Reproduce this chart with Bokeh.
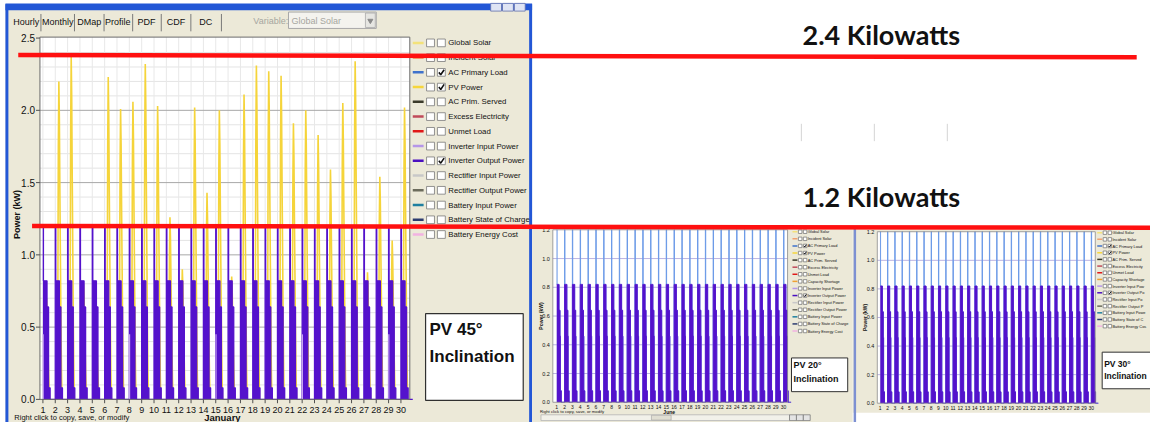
import numpy as np
from math import pi
from bokeh.plotting import figure
from bokeh.models import Range1d
from bokeh.embed import file_html
from bokeh.resources import INLINE
from bokeh.core.properties import value

# ---------------- data ----------------
days = list(range(1, 31))
day_labels = [str(d) for d in days]
hours = list(range(24))

# daily peak of PV Power, 45 deg panel (kW)
pv45_peak_kw = [0.70, 2.20, 2.37, 0.80, 0.60, 2.23, 2.01, 2.06, 2.32, 2.03,
                1.26, 0.90, 2.02, 1.43, 2.00, 0.85, 2.11, 2.31, 2.27, 2.24,
                1.91, 2.00, 1.83, 1.59, 2.05, 2.34, 0.88, 1.54, 1.10, 2.02]
pv_shape_hours = [4, 5, 6, 7, 8, 9, 10, 11, 12, 13]
pv_shape_frac = [0.0, 0.30, 0.80, 1.0, 0.88, 0.65, 0.45, 0.25, 0.10, 0.0]

# hourly inverter output (same each day), kW
inverter45_profile_kw = [1.19, 0.82, 0.82, 0.82, 0.82, 0.82, 0.82, 0.82, 0.64, 0.64,
                         0.64, 0.08, 0.08, 0.08] + [0.0] * 10
lilac_days = [1, 8, 15, 22, 29]
lilac_kw = 0.45

acload_small_profile_kw = [1.20, 0.82, 0.82, 0.82, 0.82, 0.82, 0.82, 0.64, 0.64, 0.64,
                           0.46, 0.08, 0.08, 0.08] + [0.0] * 10
inverter_small_profile_kw = [0.82, 0.82, 0.82, 0.82, 0.82, 0.82, 0.82, 0.64, 0.64,
                             0.64, 0.46, 0.08, 0.08, 0.08] + [0.0] * 10

ref_levels_kw = [2.38, 1.20]
ref_labels = ["2.4 Kilowatts", "1.2 Kilowatts"]

y45_ticks = [0.0, 0.5, 1.0, 1.5, 2.0, 2.5]
y45_labels = ["0.0", "0.5", "1.0", "1.5", "2.0", "2.5"]
ysm_ticks = [0.0, 0.2, 0.4, 0.6, 0.8, 1.0, 1.2]
ysm_labels = ["0.0", "0.2", "0.4", "0.6", "0.8", "1.0", "1.2"]

tabs = ["Hourly", "Monthly", "DMap", "Profile", "PDF", "CDF", "DC"]

legend45_names = ["Global Solar", "Incident Solar", "AC Primary Load", "PV Power",
                  "AC Prim. Served", "Excess Electricity", "Unmet Load",
                  "Inverter Input Power", "Inverter Output Power",
                  "Rectifier Input Power", "Rectifier Output Power",
                  "Battery Input Power", "Battery State of Charge", "Battery Energy Cost"]
legend45_colors = ["#f3e27a", "#f0a070", "#3f72cc", "#f6d63c", "#3a3a2a", "#c04a5a",
                   "#e01818", "#b596e8", "#4a10c0", "#c8c8c8", "#6c6c5c", "#1f7fa0",
                   "#2c3c70", "#f2b2e2"]
legend45_checked = [False, False, True, True, False, False, False, False, True,
                    False, False, False, False, False]

legend_sm_names = ["Global Solar", "Incident Solar", "AC Primary Load", "PV Power",
                   "AC Prim. Served", "Excess Electricity", "Unmet Load",
                   "Capacity Shortage", "Inverter Input Power", "Inverter Output Power",
                   "Rectifier Input Power", "Rectifier Output Power",
                   "Battery Input Power", "Battery State of Charge", "Battery Energy Cost"]
# the 30 deg window is cut at the picture's right edge
legend30_visible = [nm[:18] for nm in legend_sm_names]
legend_sm_colors = ["#f3e27a", "#f0a070", "#3f72cc", "#f6d63c", "#3a3a2a", "#c04a5a",
                    "#e01818", "#f0a030", "#b596e8", "#4a10c0", "#c8c8c8", "#6c6c5c",
                    "#1f7fa0", "#2c3c70", "#f2b2e2"]
legend_sm_checked = [False, False, True, True, False, False, False, False, False, True,
                     False, False, False, False, False]

# ---------------- styling ----------------
SANS = "Liberation Sans"
BEIGE = "#ece9d8"
WBLUE = "#2357d6"
PURPLE = "#5412cc"
YELLOW = "#f5d43a"
RED = "#ff1010"
LBLUE = "#6c9be8"

W, H = 1166, 438
p = figure(width=1150, height=422, x_range=Range1d(0, W), y_range=Range1d(H, 0),
           output_backend="svg", toolbar_location=None, x_axis_type=None,
           y_axis_type=None, min_border=0)
p.outline_line_color = None
p.background_fill_color = "white"
p.border_fill_color = "white"


def rng(p0, v0, p1, v1, lo, hi):
    k = (v1 - v0) / (p1 - p0)
    return Range1d(start=v0 + (lo - p0) * k, end=v0 + (hi - p0) * k)


p.extra_x_ranges = {"x45": rng(43, 1, 406, 30, 0, W),
                    "x20": rng(564, 1, 794, 30, 0, W),
                    "x30": rng(892, 1, 1106, 30, 0, W)}
p.extra_y_ranges = {"y45": rng(414, 0, 39, 2.5, H, 0),
                    "y20": rng(417, 0, 238, 1.2, H, 0),
                    "y30": rng(418, 0, 240, 1.2, H, 0)}


def L(v):
    return list(v) if isinstance(v, (list, tuple, np.ndarray)) else [v]


def T(x, y, text, size, color="#111111", font=SANS, style="normal", align="left",
      baseline="middle", angle=0.0, xr="default", yr="default"):
    text = L(text)
    n = len(text)
    xs = L(x) if isinstance(x, (list, tuple, np.ndarray)) else [x] * n
    ys = L(y) if isinstance(y, (list, tuple, np.ndarray)) else [y] * n
    p.text(x=xs, y=ys, text=text, text_font=value(font),
           text_font_size=value(size), text_color=color, text_font_style=style,
           text_align=align, text_baseline=baseline, angle=angle,
           x_range_name=xr, y_range_name=yr)


def box(l, r, t, b, fill, line=None, lw=1.0, xr="default", yr="default"):
    p.quad(left=l, right=r, top=t, bottom=b, fill_color=fill,
           line_color=line, line_width=lw, x_range_name=xr, y_range_name=yr)


def seg(x0, y0, x1, y1, color, lw=1.0, xr="default", yr="default", alpha=1.0):
    p.segment(x0=L(x0), y0=L(y0), x1=L(x1), y1=L(y1), line_color=color,
              line_width=lw, line_alpha=alpha, x_range_name=xr, y_range_name=yr)


def tiled(profile):
    xs, ys = [], []
    for d in days:
        for h, v in zip(hours, profile):
            xs.append(d + h / 24.0)
            ys.append(v)
    return xs, ys


def checkbox(x, y, s, checked):
    box(x, x + s, y - s / 2, y + s / 2, "white", "#7a7a7a", 0.8)
    if checked:
        p.line(x=[x + 0.18 * s, x + 0.42 * s, x + 0.85 * s],
               y=[y, y + 0.3 * s, y - 0.35 * s], line_color="#111111",
               line_width=max(1.0, s / 5.0))


# ================= left window (45 deg) =================
box(5, 539, 4, H, BEIGE)
box(5, 8, 4, H, WBLUE)
box(536, 539, 4, H, WBLUE)
box(5, 539, 3, 10, WBLUE)
for bx in [497, 509, 521]:
    box(bx, bx + 11, 3, 11, "#dfe4f4", "#6070b0", 0.8)

# tabs
tab_x = [26, 58, 90, 119, 148, 178, 208]
tab_sep = [41, 75, 105, 134, 163, 193, 224]
T(tab_x, 22, tabs, "9px", align="center")
seg(tab_sep, [14] * 7, tab_sep, [32] * 7, "#7a7a7a", 1.0)
T(274, 21, "Variable:", "9px", color="#a6a6a0", align="center")
box(292, 381, 12, 29, "#f4f3ee", "#a8a8a8", 1.0)
T(295, 21, "Global Solar", "9px", color="#a6a6a0")
box(370, 380, 13, 28, "#e6e6e2", "#a8a8a8", 0.8)
p.scatter(x=[375], y=[21], marker="inverted_triangle", size=5, color="#8a8a8a")

# plot frame
box(40, 415, 38, 414, "white", None)
minor = [round(v, 2) for v in np.arange(0.1, 2.5, 0.1) if round(v * 10) % 5 != 0]
seg([40] * len(minor), minor, [415] * len(minor), minor, "#e4e4e4", 1.0, yr="y45")
seg(days, [38] * 30, days, [414] * 30, "#e8e8e8", 1.0, xr="x45")
major = [0.5, 1.0, 1.5, 2.0]
seg([40] * 4, major, [415] * 4, major, "#a8a8a8", 1.0, yr="y45")

# PV power spikes
pv_x, pv_y = [], []
for d, pk in zip(days, pv45_peak_kw):
    pv_x.append([d + h / 24.0 for h in pv_shape_hours])
    pv_y.append([pk * f for f in pv_shape_frac])
p.multi_line(xs=pv_x, ys=pv_y, line_color=YELLOW, line_width=1.6,
             x_range_name="x45", y_range_name="y45")

# inverter output
ix, iy = tiled(inverter45_profile_kw)
p.varea_step(x=ix, y1=[0] * len(ix), y2=iy, step_mode="after", fill_color=PURPLE,
             x_range_name="x45", y_range_name="y45")
p.step(x=ix, y=iy, mode="after", line_color=PURPLE, line_width=1.3,
       x_range_name="x45", y_range_name="y45")
lx = [d + 0.5 / 24 for d in lilac_days]
seg(lx, [0] * 5, lx, [lilac_kw] * 5, "#c7a6f2", 1.2, xr="x45", yr="y45")

box(40, 415, 38, 414, None, "#6a6a6a", 1.0)

# axes text
seg([36] * 6, y45_ticks, [40] * 6, y45_ticks, "#505050", 1.0, yr="y45")
T([35] * 6, y45_ticks, y45_labels, "10px", align="right", yr="y45")
seg(days, [414] * 30, days, [418] * 30, "#505050", 1.0, xr="x45")
T(days, 425, day_labels, "9px", align="center", xr="x45")
T(17, 222, "Power (kW)", "9px", style="bold", align="center", angle=pi / 2)
T(225, 433, "January", "9.5px", style="bold", align="center")
T(14, 433, "Right click to copy, save, or modify", "7.5px")

# legend
for i, (nm, c, ck) in enumerate(zip(legend45_names, legend45_colors, legend45_checked)):
    yy = 44 + 15.3 * i
    seg(418, yy, 429, yy, c, 2.5)
    checkbox(432, yy, 8, False)
    checkbox(443, yy, 8, ck)
    T(454, yy, nm, "7.8px")

# caption box
box(431, 530, 325, 415, "white", "#303030", 1.2)
T(435, 341, "PV 45\u00b0", "17px", style="bold")
T(435, 369, "Inclination", "17px", style="bold")


# ================= small panels =================
def small_panel(xr, yr, frame, lab_x, ttl, names, legend_x, legend_y0, legend_dy, cbox,
                month, bottom_text):
    l, r, t, b = frame
    box(l, r, t, b, "white", None)
    gl = [0.2, 0.4, 0.6, 0.8, 1.0]
    seg(days, [t] * 30, days, [b] * 30, "#ececf4", 1.0, xr=xr)
    seg([l] * 5, gl, [r] * 5, gl, "#bcb4e2", 1.0, yr=yr)
    ax, ay = tiled(acload_small_profile_kw)
    p.step(x=ax, y=ay, mode="after", line_color=LBLUE, line_width=1.0,
           x_range_name=xr, y_range_name=yr)
    sx, sy = tiled(inverter_small_profile_kw)
    p.varea_step(x=sx, y1=[0] * len(sx), y2=sy, step_mode="after",
                 fill_color=PURPLE, x_range_name=xr, y_range_name=yr)
    p.step(x=sx, y=sy, mode="after", line_color=PURPLE, line_width=0.9,
           x_range_name=xr, y_range_name=yr)
    box(l, r, t, b, None, "#8a8a8a", 0.8)
    T([lab_x] * 7, ysm_ticks, ysm_labels, "5.5px", align="right", yr=yr)
    T(days, b + 5, day_labels, "5px", align="center", xr=xr)
    T(lab_x - 9, (t + b) / 2, "Power (kW)", "5px", style="bold", align="center",
      angle=pi / 2)
    if month:
        T((l + r) / 2 - 1, b + 10, month, "5px", style="bold", align="center")
    if bottom_text:
        T(l - 13, b + 10, bottom_text, "4.2px")
    for i, (nm, c, ck) in enumerate(zip(names, legend_sm_colors, legend_sm_checked)):
        yy = legend_y0 + legend_dy * i
        seg(legend_x, yy, legend_x + 5, yy, c, 1.5)
        checkbox(legend_x + 6, yy, 3.6, False)
        checkbox(legend_x + 11, yy, 3.6, ck)
        T(legend_x + 15.5, yy, nm, "3.9px")
    bl, br, bt, bb, tx, ty1, ty2, fs = cbox
    box(bl, br, bt, bb, "white", "#303030", 1.0)
    T(tx, ty1, "PV " + ttl + "\u00b0", fs, style="bold")
    T(tx, ty2, "Inclination", fs, style="bold")


# PV 20 window
box(539, 864, 236, H, BEIGE)
small_panel("x20", "y20", (560, 798, 238, 417), 557, "20", legend_sm_names, 803, 240,
            7.36, (802, 859, 371, 406, 804, 378, 393, "9px"), "June",
            "Right click to copy, save, or modify")
box(548, 800, 430, 436, "#f2f1ea", "#b4b4b4", 0.8)
box(660, 680, 430.5, 435.5, "#e0ded2", "#a0a0a0", 0.6)
for bx in [800, 807, 814]:
    box(bx, bx + 7, 430, 436, "#e4e4e4", "#707070", 0.7)

# PV 30 window (cut by the picture's right edge)
box(864, W, 236, 428, BEIGE)
box(865, 867.5, 236, H, "#7d90d2")
small_panel("x30", "y30", (889, 1110, 240, 418), 886, "30", legend30_visible, 1112,
            241, 6.93, (1117, 1170, 365, 403, 1119, 377, 390, "8.5px"), None, None)

# ================= annotations =================
seg([812, 886, 960], [128] * 3, [812, 886, 960], [146] * 3, "#d4d4d4", 1.0)
T([893, 893], [35, 203], ref_labels, "27px", font="Lato", style="bold",
  align="center")
seg([18], [ref_levels_kw[0] + 0.003], [1152], [ref_levels_kw[0] - 0.013], RED, 4.5,
    yr="y45")
seg([32], [ref_levels_kw[1]], [W], [ref_levels_kw[1] - 0.013], RED, 4.5, yr="y45")

open("out.html", "w").write(file_html(p, INLINE))
